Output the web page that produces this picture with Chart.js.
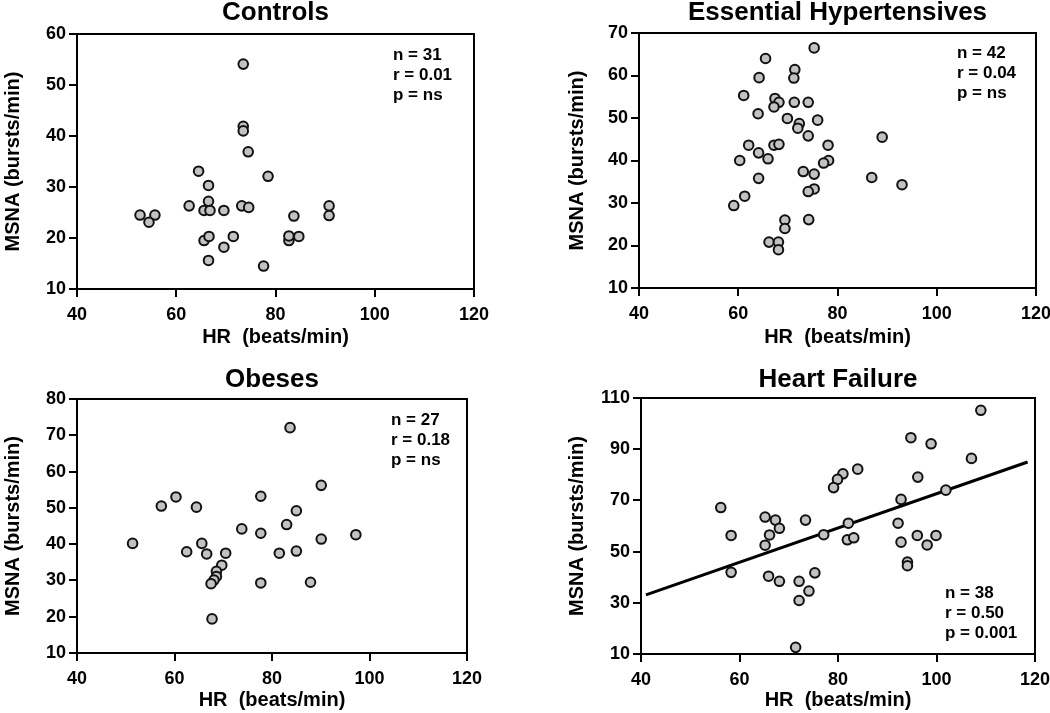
<!DOCTYPE html>
<html>
<head>
<meta charset="utf-8">
<title>MSNA vs HR</title>
<script src="https://cdn.jsdelivr.net/npm/chart.js@4.4.1/dist/chart.umd.min.js"></script>
<style>
    body { margin: 0; background: #fff; }
    #wrap { position: relative; width: 1050px; height: 713px; overflow: hidden; }
    canvas { position: absolute; }
</style>
</head>
<body>
<div id="wrap">
    <canvas id="c1" width="500" height="356" style="left:0px;top:0px"></canvas>
    <canvas id="c2" width="490" height="356" style="left:560px;top:0px"></canvas>
    <canvas id="c3" width="500" height="357" style="left:0px;top:356px"></canvas>
    <canvas id="c4" width="490" height="357" style="left:560px;top:356px"></canvas>
</div>
<script>
// values (HR in beats/min, MSNA in bursts/min)
var controlsHR   = [73.5, 73.5, 73.5, 74.5, 78.5, 64.5, 66.5, 66.5, 62.6, 65.6, 66.8, 69.6, 73.2, 74.6, 52.7, 55.7, 54.5, 65.6, 66.6, 71.5, 69.6, 66.5, 77.6, 82.7, 82.7, 84.7, 83.7, 90.8, 90.8];
var controlsMSNA = [54.1, 41.9, 41.0, 36.9, 32.1, 33.1, 30.3, 27.2, 26.3, 25.4, 25.4, 25.4, 26.3, 26.0, 24.5, 24.5, 23.1, 19.5, 20.3, 20.3, 18.2, 15.6, 14.5, 19.5, 20.4, 20.3, 24.3, 26.3, 24.4];

var essentialHR   = [75.3, 65.5, 71.4, 71.2, 64.2, 61.1, 67.4, 68.2, 67.2, 71.3, 74.1, 64.0, 69.9, 72.3, 72.0, 76.0, 74.1, 89.0, 62.1, 67.2, 68.2, 78.1, 64.1, 60.3, 66.0, 78.2, 77.2, 73.1, 75.3, 64.1, 86.9, 93.0, 75.3, 74.1, 61.3, 59.1, 69.4, 69.4, 74.2, 66.2, 68.1, 68.1];
var essentialMSNA = [66.5, 64.0, 61.4, 59.4, 59.5, 55.3, 54.6, 53.7, 52.6, 53.7, 53.7, 51.0, 49.9, 48.7, 47.6, 49.5, 45.8, 45.5, 43.6, 43.6, 43.8, 43.6, 41.8, 40.0, 40.4, 40.0, 39.4, 37.4, 36.8, 35.8, 36.0, 34.3, 33.3, 32.7, 31.6, 29.4, 26.0, 24.0, 26.1, 20.8, 20.8, 19.0];

var obeseHR   = [83.7, 90.1, 77.7, 60.3, 57.3, 64.5, 85.0, 83.0, 73.8, 77.7, 97.2, 51.4, 65.6, 90.1, 62.5, 66.6, 70.5, 81.5, 85.0, 69.7, 68.6, 68.6, 68.1, 67.5, 77.7, 87.9, 67.7];
var obeseMSNA = [72.1, 56.2, 53.2, 53.0, 50.5, 50.2, 49.2, 45.4, 44.2, 43.0, 42.6, 40.2, 40.2, 41.4, 37.9, 37.3, 37.5, 37.5, 38.1, 34.2, 32.5, 31.1, 30.1, 29.1, 29.3, 29.5, 19.4];

var failureHR   = [109.0, 94.8, 98.9, 107.1, 84.0, 81.0, 79.9, 79.1, 96.2, 101.9, 92.8, 56.2, 65.2, 67.3, 73.4, 68.1, 66.1, 58.3, 65.2, 77.1, 82.1, 81.9, 83.2, 92.2, 92.8, 96.1, 98.1, 99.9, 94.1, 94.1, 58.3, 65.9, 68.1, 72.1, 75.3, 74.1, 72.1, 71.4];
var failureMSNA = [105.2, 94.5, 92.1, 86.4, 82.2, 80.4, 78.2, 75.0, 79.1, 74.0, 70.4, 67.2, 63.5, 62.3, 62.3, 59.1, 56.5, 56.3, 52.5, 56.6, 61.1, 54.6, 55.4, 61.1, 53.7, 56.3, 52.6, 56.3, 45.9, 44.5, 41.9, 40.4, 38.4, 38.4, 41.7, 34.6, 30.9, 12.6];

// regression line for heart failure (two ends)
var failureFitHR   = [41, 118.5];
var failureFitMSNA = [33.1, 85.0];

var titles = ['Controls', 'Essential Hypertensives', 'Obeses', 'Heart Failure'];
var statsLines = [
    ['n = 31', 'r = 0.01', 'p = ns'],
    ['n = 42', 'r = 0.04', 'p = ns'],
    ['n = 27', 'r = 0.18', 'p = ns'],
    ['n = 38', 'r = 0.50', 'p = 0.001']
];
var xTicks = [40, 60, 80, 100, 120];
var yRanges = [[10, 60, 10], [10, 70, 10], [10, 80, 10], [10, 110, 20]];

var FONT = "'Liberation Sans', Arial, Helvetica, sans-serif";
Chart.defaults.font.family = FONT;
Chart.defaults.color = '#000';

function toPoints(xs, ys) {
    var pts = [];
    for (var i = 0; i < xs.length; i++) pts.push({x: xs[i], y: ys[i]});
    return pts;
}

/* box around the plot area + the n/r/p text */
var framePlugin = {
    id: 'frame',
    afterDraw: function(chart, args, opts) {
        var a = chart.chartArea, ctx = chart.ctx;
        ctx.save();
        ctx.strokeStyle = '#000';
        ctx.lineWidth = 2;
        ctx.strokeRect(a.left, a.top, a.right - a.left, a.bottom - a.top);
        ctx.fillStyle = '#000';
        ctx.font = 'bold 17px ' + FONT;
        ctx.textAlign = 'left';
        ctx.textBaseline = 'alphabetic';
        var lines = opts.lines || [];
        for (var i = 0; i < lines.length; i++) {
            var y;
            if (opts.corner == 'bottom')
                y = a.bottom - opts.dy - (lines.length - 1 - i) * 20;
            else
                y = a.top + opts.dy + i * 20;
            ctx.fillText(lines[i], a.right - opts.dx, y);
        }
        ctx.restore();
    }
};

var panels = [
    {id: 'c1', xs: controlsHR, ys: controlsMSNA, yAxisW: 77, xAxisH: 67, padRight: 26, titlePad: {top: 0, bottom: 8}, yTitlePad: 1, xTitlePad: 7, corner: 'top', dx: 81, dy: 26},
    {id: 'c2', xs: essentialHR, ys: essentialMSNA, yAxisW: 79, xAxisH: 68, padRight: 14, titlePad: {top: 0, bottom: 7}, yTitlePad: 5, xTitlePad: 7, corner: 'top', dx: 79, dy: 25},
    {id: 'c3', xs: obeseHR, ys: obeseMSNA, yAxisW: 77, xAxisH: 60, padRight: 33, titlePad: {top: 11, bottom: 6}, yTitlePad: 1, xTitlePad: 1, corner: 'top', dx: 76, dy: 26},
    {id: 'c4', xs: failureHR, ys: failureMSNA, yAxisW: 81, xAxisH: 59, padRight: 15, titlePad: {top: 11, bottom: 5}, yTitlePad: 5, xTitlePad: 1, corner: 'bottom', dx: 90, dy: 16}
];

function makeChart(p, k) {
    var datasets = [{
        data: toPoints(p.xs, p.ys),
        backgroundColor: '#c2c2c2',
        borderColor: '#111',
        borderWidth: 2,
        pointRadius: 4.8,
        pointHoverRadius: 4.8,
        order: 1
    }];
    if (k == 3) {
        datasets.push({
            type: 'line',
            data: toPoints(failureFitHR, failureFitMSNA),
            borderColor: '#000',
            borderWidth: 3,
            pointRadius: 0,
            showLine: true,
            fill: false,
            order: 2
        });
    }
    var yr = yRanges[k];
    var axisGrid = {
        display: true,
        drawOnChartArea: false,
        drawTicks: true,
        tickLength: 8,
        tickWidth: 2,
        color: '#000',
        lineWidth: 2
    };
    return new Chart(document.getElementById(p.id), {
        type: 'scatter',
        data: {datasets: datasets},
        plugins: [framePlugin],
        options: {
            responsive: false,
            animation: false,
            events: [],
            layout: {padding: {left: 0, right: p.padRight, top: 0, bottom: 0}},
            plugins: {
                legend: {display: false},
                tooltip: {enabled: false},
                title: {
                    display: true,
                    text: titles[k],
                    fullSize: false,
                    color: '#000',
                    font: {size: 26, weight: 'bold', lineHeight: 1},
                    padding: p.titlePad
                },
                frame: {lines: statsLines[k], corner: p.corner, dx: p.dx, dy: p.dy}
            },
            scales: {
                x: {
                    type: 'linear',
                    min: xTicks[0],
                    max: xTicks[xTicks.length - 1],
                    afterBuildTicks: function(s) { s.ticks = xTicks.map(function(v) { return {value: v}; }); },
                    afterFit: function(s) { s.height = p.xAxisH; s.paddingLeft = 0; s.paddingRight = 0; },
                    grid: axisGrid,
                    border: {display: true, color: '#000', width: 2},
                    ticks: {font: {size: 18, weight: 'bold'}, color: '#000', padding: 7, maxRotation: 0},
                    title: {
                        display: true,
                        text: 'HR  (beats/min)',
                        color: '#000',
                        font: {size: 20, weight: 'bold', lineHeight: 1.2},
                        padding: {top: 0, bottom: p.xTitlePad}
                    }
                },
                y: {
                    type: 'linear',
                    min: yr[0],
                    max: yr[1],
                    ticks: {stepSize: yr[2], font: {size: 18, weight: 'bold'}, color: '#000', padding: 3},
                    afterFit: function(s) { s.width = p.yAxisW; s.paddingTop = 0; s.paddingBottom = 0; },
                    grid: axisGrid,
                    border: {display: true, color: '#000', width: 2},
                    title: {
                        display: true,
                        text: 'MSNA (bursts/min)',
                        color: '#000',
                        font: {size: 20, weight: 'bold', lineHeight: 1.2},
                        padding: {top: p.yTitlePad, bottom: 0}
                    }
                }
            }
        }
    });
}

for (var i = 0; i < panels.length; i++) {
    makeChart(panels[i], i);
}
</script>
</body>
</html>
